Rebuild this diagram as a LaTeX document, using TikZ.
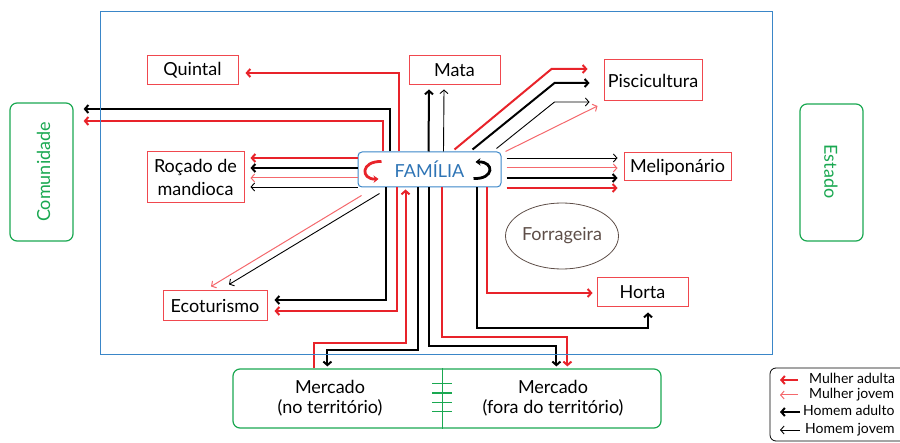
\documentclass[tikz,border=0pt]{standalone}
\usepackage{fontspec}
\setmainfont{Lato}
\usetikzlibrary{arrows.meta,calc,shapes.geometric}
\definecolor{rd}{HTML}{E8232A}
\definecolor{lrd}{HTML}{F4686C}
\definecolor{bxr}{HTML}{F0484E}
\definecolor{grn}{HTML}{1AA851}
\definecolor{blu}{HTML}{3A86C8}
\definecolor{famtxt}{HTML}{2E74B5}
\definecolor{brn}{HTML}{5E4E48}
\begin{document}
\begin{tikzpicture}[x=1pt,y=-1pt,
  arr/.style={-{Straight Barb[length=3.5pt,width=8pt]}},
  ma/.style={draw=rd,line width=2pt,arr},
  mj/.style={draw=lrd,line width=1pt,arr},
  ha/.style={draw=black,line width=2pt,arr},
  hj/.style={draw=black,line width=0.9pt,arr},
  bigtxt/.style={font=\fontsize{18}{20}\selectfont},
  place/.style={draw=bxr,line width=1pt,inner sep=0pt,align=center,bigtxt},
  gbox/.style={draw=grn,line width=1.2pt,rounded corners=7pt,inner sep=0pt},
  legtxt/.style={anchor=west,inner sep=0pt,font=\fontsize{14}{15}\selectfont,text height=10pt,text depth=3pt}
]
\useasboundingbox (0,0) rectangle (900,443);

% nodes
\node[draw=blu,line width=1pt,rounded corners=4pt,minimum width=143pt,minimum height=35pt,inner sep=0pt,text=famtxt,bigtxt] (fam) at (429.5,169.5) {FAMÍLIA};
\node[place,minimum width=91pt,minimum height=29pt] (quintal) at (192.5,70.5) {Quintal};
\node[place,minimum width=91pt,minimum height=29pt] (mata) at (454.5,70.5) {Mata};
\node[place,minimum width=98pt,minimum height=41pt] (pisc) at (653,80.5) {Piscicultura};
\node[place,minimum width=107pt,minimum height=28pt] (melip) at (677.5,167) {Meliponário};
\node[place,minimum width=97pt,minimum height=51pt,font=\fontsize{18}{23}\selectfont] (rocado) at (195.5,177.5) {Roçado de\\mandioca};
\node[place,minimum width=104pt,minimum height=30pt] (eco) at (215,306) {Ecoturismo};
\node[place,minimum width=91pt,minimum height=29pt] (horta) at (642.5,292.5) {Horta};
\node[ellipse,draw=brn,line width=0.8pt,minimum width=106pt,minimum height=66pt,inner sep=0pt,text=brn,bigtxt] (forr) at (562,236) {Forrageira};

\node[gbox,minimum width=63pt,minimum height=138pt] (com) at (41.5,172) {};
\node[rotate=90,text=grn,bigtxt,inner sep=0pt] (comtxt) at (43.5,172) {Comunidade};
\node[gbox,minimum width=63pt,minimum height=137pt] (est) at (831.5,172.5) {};
\node[rotate=-90,text=grn,bigtxt,inner sep=0pt] (esttxt) at (831,171.5) {Estado};

\node[gbox,minimum width=428pt,minimum height=59pt] (merc) at (447,398.5) {};
\node[bigtxt,align=center,inner sep=0pt] (mercno) at (330,398) {Mercado\\(no território)};
\node[bigtxt,align=center,inner sep=0pt] (mercfora) at (553,398) {Mercado\\(fora do território)};
\draw[grn,line width=1pt] ($(merc.north)+(-5,0)$) -- ($(merc.south)+(-5,0)$);
\foreach \yy/\ww in {384/1,393/1.8,403/1,412/1}
  \draw[grn,line width=\ww pt] (432,\yy) -- (452,\yy);

% top connectors
\draw[ma] ($(fam.north west)+(41,0)$) |- ($(quintal.east)+(7,2.5)$);
\draw[ha] ($(fam.north west)+(32,0)$) |- ($(com.east)+(10,-63)$);
\draw[ma] ($(fam.north west)+(25,0)$) |- ($(com.east)+(10,-51)$);
\draw[ha] ($(fam.north west)+(71,0)$) -- ($(mata.south)+(-25.5,4)$);
\draw[hj] ($(fam.north west)+(86,0)$) -- ($(mata.south)+(-10.5,4)$);
% piscicultura
\draw[ma] ($(fam.north west)+(97,-2)$) -- ($(pisc.west)+(-52,-11.5)$) -- ($(pisc.west)+(-16,-11.5)$);
\draw[ha] ($(fam.north west)+(115,-2)$) -- ($(pisc.west)+(-49,2.5)$) -- ($(pisc.west)+(-14,2.5)$);
\draw[hj] ($(fam.north west)+(139,-3)$) -- ($(pisc.west)+(-49,21.5)$) -- ($(pisc.west)+(-14,21.5)$);
\draw[mj] ($(fam.north west)+(148,0)$) -- ($(pisc.west)+(-6,25.5)$);
% meliponario
\draw[hj] ($(fam.east)+(5,-11.5)$) -- ($(melip.west)+(-6,-9)$);
\draw[mj] ($(fam.east)+(5,-1.5)$) -- ($(melip.west)+(-6,1)$);
\draw[ha] ($(fam.east)+(5,8.5)$) -- ($(melip.west)+(-6,11)$);
\draw[ma] ($(fam.east)+(5,18.5)$) -- ($(melip.west)+(-6,21)$);
% rocado
\draw[ma] ($(fam.west)+(0,-11.5)$) -- ($(rocado.east)+(6,-19.5)$);
\draw[ha] ($(fam.west)+(0,-1.5)$) -- ($(rocado.east)+(6,-9.5)$);
\draw[mj] ($(fam.west)+(0,8.5)$) -- ($(rocado.east)+(6,0.5)$);
\draw[hj] ($(fam.west)+(0,17.5)$) -- ($(rocado.east)+(6,9.5)$);
% ecoturismo
\draw[mj] ($(fam.south west)+(4,8)$) -- ($(eco.north)+(-4,-4)$);
\draw[hj] ($(fam.south west)+(22,6)$) -- ($(eco.north)+(14,-6)$);
\draw[ha] ($(fam.south west)+(28,0)$) |- ($(eco.east)+(7,-6)$);
\draw[ma] ($(fam.south west)+(39,0)$) |- ($(eco.east)+(7,5)$);
% mercado
\draw[ma] ($(merc.north west)+(82,0)$) |- ($(fam.south west)+(48,156)$) -- ($(fam.south west)+(48,2)$);
\draw[ha] ($(fam.south west)+(60,0)$) |- ($(merc.north west)+(95,-18)$) -- ($(merc.north west)+(95,-2)$);
\draw[ha] ($(fam.south west)+(71,0)$) |- ($(merc.north west)+(324,-22)$) -- ($(merc.north west)+(324,-2)$);
\draw[ma] ($(fam.south west)+(84,0)$) |- ($(merc.north west)+(335,-31)$) -- ($(merc.north west)+(335,-2)$);
% horta
\draw[ha] ($(fam.south west)+(119,0)$) |- ($(horta.south)+(5.5,21)$) -- ($(horta.south)+(5.5,5)$);
\draw[ma] ($(fam.south west)+(129,0)$) |- ($(horta.west)+(-4,0.5)$);

% self loops inside FAMILIA
\draw[rd,line width=2.8pt,-{Stealth[length=5pt,width=7.5pt]}] ($(fam.west)+(24,-8)$) .. controls ($(fam.west)+(3,-8.5)$) and ($(fam.west)+(3,10)$) .. ($(fam.west)+(21,9.5)$);
\draw[black,line width=2.8pt,-{Stealth[length=5pt,width=7.5pt]}] ($(fam.east)+(-28,9)$) .. controls ($(fam.east)+(-7,10)$) and ($(fam.east)+(-7,-8)$) .. ($(fam.east)+(-26,-7.5)$);

% blue frame
\node[draw=blu,line width=1pt,minimum width=672pt,minimum height=343pt,inner sep=0pt] (frame) at (436,183.5) {};

% legend
\draw[line width=0.8pt,rounded corners=6pt] (912,368) -- (770,368) -- (770,441) -- (912,441);
\node[legtxt] (l1) at (809,380) {Mulher adulta};
\node[legtxt] (l2) at (809,395) {Mulher jovem};
\node[legtxt] (l3) at (803,412) {Homem adulto};
\node[legtxt] (l4) at (805,430) {Homem jovem};
\draw[ma] ($(l1.west)+(-11,0)$) -- ++(-18,0);
\draw[mj] ($(l2.west)+(-11,0)$) -- ++(-18,0);
\draw[ha] ($(l3.west)+(-3,0)$) -- ++(-20,0);
\draw[hj] ($(l4.west)+(-5,0)$) -- ++(-20,0);
\end{tikzpicture}
\end{document}
